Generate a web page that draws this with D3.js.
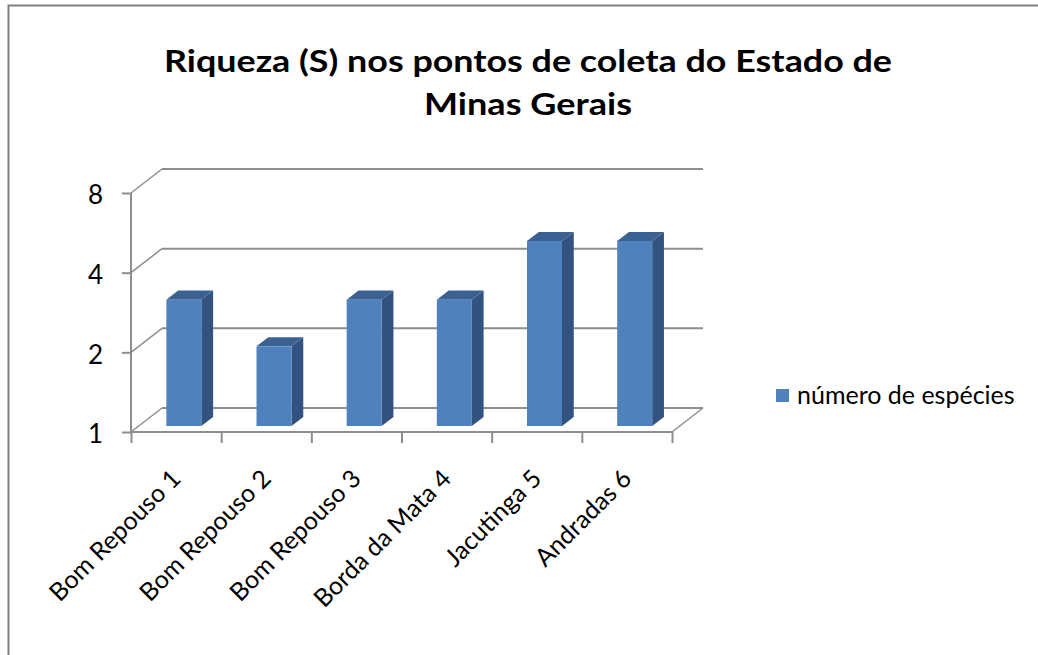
<!DOCTYPE html>
<html lang="pt">
<head>
<meta charset="UTF-8">
<title>Riqueza (S) nos pontos de coleta</title>
<script src="https://d3js.org/d3.v7.min.js"></script>
<style>
  body { margin: 0; background: #fff; }
  text { font-family: Lato, "Open Sans", sans-serif; fill: #000; }
</style>
</head>
<body>
<script>
// data
var categories = ["Bom Repouso 1", "Bom Repouso 2", "Bom Repouso 3", "Borda da Mata 4", "Jacutinga 5", "Andradas 6"];
var especies = [3, 2, 3, 3, 5, 5];
var yTicks = [1, 2, 4, 8];
var seriesName = "número de espécies";
var titleLines = ["Riqueza (S) nos pontos de coleta do Estado de", "Minas Gerais"];

var W = 1038, H = 655;
var svg = d3.select("body").append("svg").attr("width", W).attr("height", H);

// chart border
svg.append("rect")
    .attr("x", 8.5).attr("y", 5.5)
    .attr("width", 1200).attr("height", 800)
    .attr("fill", "none").attr("stroke", "#7f7f7f").attr("stroke-width", 2);

// 3d frame: front plane and depth offset of the back wall
var x0 = 131, x1 = 672, dX = 31, dY = -24;
var x = d3.scaleBand().domain(categories).range([x0, x1])
    .paddingInner(0.612).paddingOuter(0.306);
var y = d3.scaleLog().base(2).domain([1, 8]).range([432, 193]);

var grey = "#8e8e8e";
var g = svg.append("g");

// back wall gridlines + left wall diagonals
yTicks.forEach(function (t) {
    g.append("line")
        .attr("x1", x0 + dX).attr("x2", x1 + dX)
        .attr("y1", y(t) + dY).attr("y2", y(t) + dY)
        .attr("stroke", grey).attr("stroke-width", 2);
    g.append("line")
        .attr("x1", x0).attr("x2", x0 + dX)
        .attr("y1", y(t)).attr("y2", y(t) + dY)
        .attr("stroke", grey).attr("stroke-width", 1.5);
});
// floor right edge
g.append("line")
    .attr("x1", x1).attr("x2", x1 + dX)
    .attr("y1", y(1)).attr("y2", y(1) + dY)
    .attr("stroke", grey).attr("stroke-width", 1.5);

// bars (front plane pushed a bit into the depth)
var bf = 0.25, bd = 0.38;
var offX = dX * bf, offY = dY * bf, dpX = dX * bd, dpY = dY * bd;
var bars = g.selectAll(".bar").data(categories).enter().append("g").attr("class", "bar");
bars.each(function (c, i) {
    var gb = d3.select(this);
    var xl = x(c) + offX, xr = xl + x.bandwidth();
    var yt = y(especies[i]) + offY, yb = y(1) + offY;
    // side
    gb.append("path")
        .attr("d", "M" + xr + "," + yb + "L" + (xr + dpX) + "," + (yb + dpY) +
            "L" + (xr + dpX) + "," + (yt + dpY) + "L" + xr + "," + yt + "Z")
        .attr("fill", "#325380");
    // top
    gb.append("path")
        .attr("d", "M" + xl + "," + yt + "L" + xr + "," + yt +
            "L" + (xr + dpX) + "," + (yt + dpY) + "L" + (xl + dpX) + "," + (yt + dpY) + "Z")
        .attr("fill", "#3b6193");
    // front
    gb.append("rect")
        .attr("x", xl).attr("y", yt)
        .attr("width", x.bandwidth()).attr("height", yb - yt)
        .attr("fill", "#4f81bd");
});

// axes on the front plane
var yAxis = d3.axisLeft(y).tickValues(yTicks).tickFormat(d3.format("d")).tickSize(9).tickPadding(19);
var ya = svg.append("g").attr("transform", "translate(" + x0 + ",0)").call(yAxis);
ya.select(".domain").attr("stroke", grey).attr("stroke-width", 2).attr("d", "M0," + y(8) + "V" + y(1));
ya.selectAll(".tick line").attr("stroke", grey).attr("stroke-width", 2);
ya.selectAll(".tick text").attr("font-size", 26).attr("font-family", "Lato, sans-serif").attr("dy", "0.42em");

var xb = d3.scalePoint().domain(d3.range(categories.length + 1)).range([x0, x1]);
var xa = svg.append("g").attr("transform", "translate(0," + y(1) + ")")
    .call(d3.axisBottom(xb).tickSize(11).tickFormat(""));
xa.select(".domain").attr("stroke", grey).attr("stroke-width", 2).attr("d", "M" + x0 + ",0H" + x1);
xa.selectAll(".tick line").attr("stroke", grey).attr("stroke-width", 2);

// category labels, rotated
svg.append("g").selectAll("text").data(categories).enter().append("text")
    .attr("transform", function (c) {
        return "translate(" + (x(c) + x.bandwidth() / 2) + "," + 474 + ") rotate(-45)";
    })
    .attr("text-anchor", "end")
    .attr("dy", "0.35em")
    .attr("font-size", 25)
    .text(function (c) { return c; });

// title
svg.append("g").selectAll("text").data(titleLines).enter().append("text")
    .attr("x", 528).attr("y", function (d, i) { return 72 + i * 43; })
    .attr("text-anchor", "middle")
    .attr("font-size", 31).attr("font-weight", "bold")
    .attr("textLength", function (d, i) { return i === 0 ? 728 : 208; })
    .attr("lengthAdjust", "spacingAndGlyphs")
    .text(function (d) { return d; });

// legend
var lg = svg.append("g").attr("transform", "translate(776,389)");
lg.append("rect").attr("width", 13).attr("height", 13).attr("fill", "#4f81bd");
lg.append("text").attr("x", 21).attr("y", 15).attr("font-size", 25).text(seriesName);
</script>
</body>
</html>
